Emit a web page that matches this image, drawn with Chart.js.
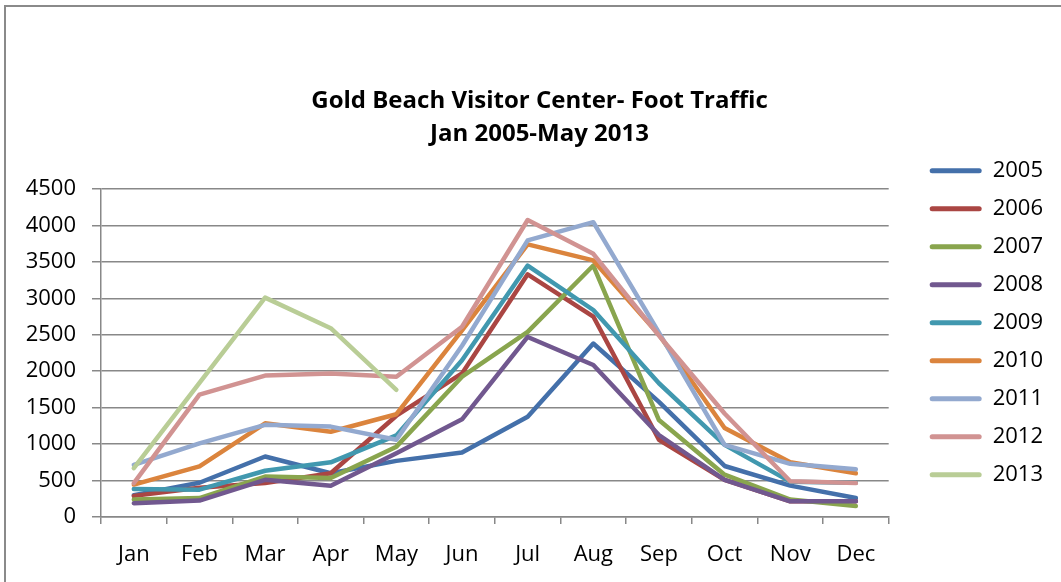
<!DOCTYPE html>
<html>
<head>
<meta charset="utf-8">
<script src="https://cdn.jsdelivr.net/npm/chart.js@4"></script>
<style>
  html, body { margin: 0; padding: 0; background: #fff; overflow: hidden; }
  #frame {
    position: absolute; left: 4px; top: 5px; width: 1100px; height: 600px;
    border-left: 2px solid #8a8a8a; border-top: 2px solid #8a8a8a;
  }
  #myChart { position: absolute; left: 0; top: 0; }
</style>
</head>
<body>
<div id="frame"></div>
<canvas id="myChart" width="1061" height="582"></canvas>
<script>
// months on the x-axis
const months = ["Jan", "Feb", "Mar", "Apr", "May", "Jun", "Jul", "Aug", "Sep", "Oct", "Nov", "Dec"];

// monthly visitor counts per year
const y2005 = [300, 470, 830, 600, 770, 885, 1375, 2380, 1580, 700, 430, 260];
const y2006 = [290, 400, 465, 600, 1390, 1970, 3330, 2750, 1060, 510, 215, 215];
const y2007 = [240, 260, 555, 535, 965, 1925, 2540, 3450, 1330, 580, 240, 150];
const y2008 = [190, 225, 510, 430, 875, 1340, 2470, 2085, 1125, 510, 215, 215];
const y2009 = [385, 375, 635, 750, 1120, 2150, 3450, 2840, 1835, 990, 485, 470];
const y2010 = [445, 695, 1285, 1170, 1410, 2560, 3740, 3520, 2500, 1220, 750, 600];
const y2011 = [715, 1010, 1265, 1240, 1060, 2350, 3795, 4045, 2530, 990, 730, 655];
const y2012 = [465, 1680, 1940, 1970, 1925, 2610, 4075, 3610, 2490, 1420, 490, 465];
const y2013 = [670, 1840, 3010, 2590, 1745];

const years = ["2005", "2006", "2007", "2008", "2009", "2010", "2011", "2012", "2013"];
const series = [y2005, y2006, y2007, y2008, y2009, y2010, y2011, y2012, y2013];
const colors = ["#4470aa", "#aa4643", "#89a54e", "#71588f", "#4198af", "#db843d", "#93a9cf", "#d19392", "#b9cd96"];

const gridColor = "#888888";
const tickFont = { family: "'Open Sans', sans-serif", size: 22 };

const datasets = years.map((yr, i) => ({
  label: yr,
  data: series[i],
  borderColor: colors[i],
  backgroundColor: colors[i],
  borderWidth: 4.5,
  pointRadius: 0,
  tension: 0,
  borderCapStyle: "round",
  borderJoinStyle: "round",
  order: -i, // later years drawn on top
}));

const ctx = document.getElementById("myChart").getContext("2d");
const myChart = new Chart(ctx, {
  type: "line",
  data: { labels: months, datasets: datasets },
  options: {
    responsive: false,
    animation: false,
    devicePixelRatio: 1,
    layout: { padding: { top: 85, left: 26, right: 8, bottom: 16 } },
    plugins: {
      tooltip: { enabled: false },
      title: {
        display: true,
        text: ["Gold Beach Visitor Center- Foot Traffic", "Jan 2005-May 2013"],
        color: "#000",
        font: { family: "'Open Sans', sans-serif", size: 24, weight: "bold", lineHeight: 1.375 },
        padding: { top: 0, bottom: 38 },
      },
      legend: {
        position: "right",
        align: "start",
        // blank legend title just pushes the entries down
        title: { display: true, text: " ", font: { size: 10, lineHeight: 1 }, padding: { top: 0, bottom: 48.7 } },
        labels: {
          color: "#000",
          font: tickFont,
          boxWidth: 52,
          boxHeight: 5,
          padding: 16,
          useBorderRadius: true,
          borderRadius: 2.5,
          sort: (a, b) => a.datasetIndex - b.datasetIndex,
          generateLabels: (chart) =>
            Chart.defaults.plugins.legend.labels.generateLabels(chart).map((l) => ({ ...l, lineWidth: 0 })),
        },
      },
    },
    scales: {
      x: {
        offset: true,
        grid: {
          offset: true,
          drawOnChartArea: false,
          drawTicks: true,
          tickLength: 7,
          color: gridColor,
          lineWidth: 1.5,
        },
        border: { color: gridColor, width: 1.5 },
        ticks: { color: "#000", font: tickFont, padding: 18, maxRotation: 0 },
        afterFit: (scale) => { scale.height = 49; },
      },
      y: {
        min: 0,
        max: 4500,
        ticks: {
          stepSize: 500,
          color: "#000",
          font: tickFont,
          padding: 16,
          callback: (v) => String(v),
        },
        grid: { color: gridColor, lineWidth: 1.5, tickLength: 9 },
        border: { color: gridColor, width: 1.5 },
        afterFit: (scale) => { scale.width = 75; },
      },
      // empty spacer between plot and legend
      gap: {
        position: "right",
        display: true,
        grid: { display: false },
        border: { display: false },
        ticks: { display: false },
        afterFit: (scale) => { scale.width = 25; },
      },
    },
  },
});
</script>
</body>
</html>
